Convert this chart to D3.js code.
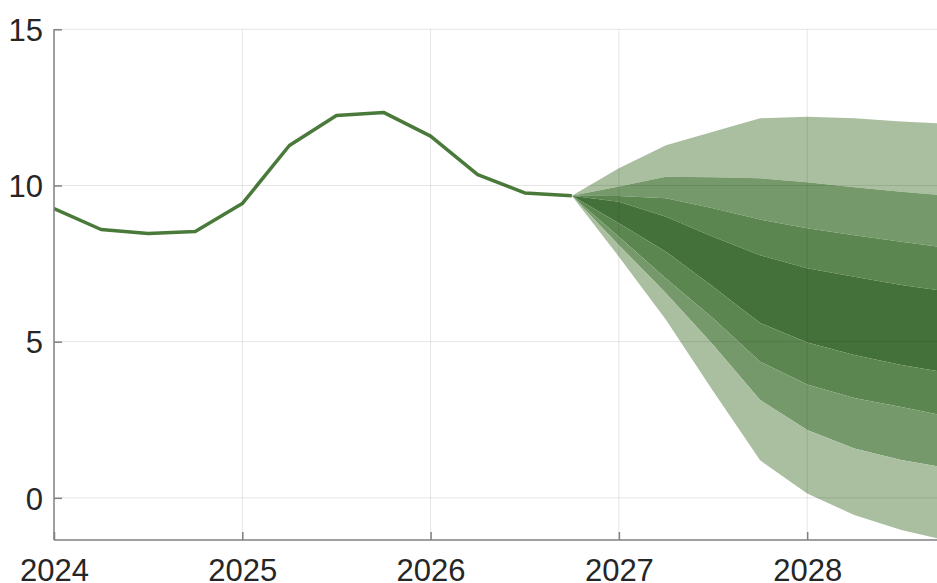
<!DOCTYPE html>
<html><head><meta charset="utf-8">
<script src="https://cdn.jsdelivr.net/npm/d3@7"></script>
<style>body{margin:0;background:#fff}svg{display:block}</style>
</head><body>
<svg id="c" width="937" height="583"></svg>
<script>
// History (quarterly, starting 2024 Q1)
const histDates = [2024, 2024.25, 2024.5, 2024.75, 2025, 2025.25, 2025.5, 2025.75, 2026, 2026.25, 2026.5, 2026.75];
const histValues = [9.26, 8.59, 8.46, 8.53, 9.42, 11.28, 12.24, 12.34, 11.58, 10.35, 9.76, 9.67];

// Fan chart (quarterly, from 2026 Q4)
const fanDates = [2026.75, 2027, 2027.25, 2027.5, 2027.75, 2028, 2028.25, 2028.5, 2028.75];
const upper1 = [9.67, 10.55, 11.29, 11.72, 12.15, 12.2, 12.15, 12.05, 11.97];
const upper2 = [9.67, 9.97, 10.28, 10.26, 10.23, 10.1, 9.94, 9.80, 9.67];
const upper3 = [9.67, 9.66, 9.59, 9.27, 8.91, 8.63, 8.41, 8.2, 8.0];
const upper4 = [9.67, 9.48, 9.0, 8.36, 7.77, 7.35, 7.08, 6.81, 6.6];
const lower4 = [9.67, 8.79, 7.88, 6.76, 5.6, 4.97, 4.57, 4.25, 4.0];
const lower3 = [9.67, 8.36, 7.02, 5.75, 4.36, 3.63, 3.2, 2.91, 2.6];
const lower2 = [9.67, 8.09, 6.55, 4.9, 3.13, 2.17, 1.58, 1.21, 0.95];
const lower1 = [9.67, 7.72, 5.7, 3.42, 1.2, 0.14, -0.55, -1.03, -1.38];

const xTicks = [2024, 2025, 2026, 2027, 2028];
const yTicks = [0, 5, 10, 15];

const svg = d3.select("#c");
const x = d3.scaleLinear().domain([2024, 2028.75]).range([54, 948.4]);
const y = d3.scaleLinear().domain([-1.35, 15]).range([540, 29.3]);

const bands = [
  {lo: upper2, hi: upper1, color: "#a9bf9f"},
  {lo: upper3, hi: upper2, color: "#76996b"},
  {lo: upper4, hi: upper3, color: "#5b8650"},
  {lo: lower4, hi: upper4, color: "#44713a"},
  {lo: lower3, hi: lower4, color: "#5b8650"},
  {lo: lower2, hi: lower3, color: "#76996b"},
  {lo: lower1, hi: lower2, color: "#a9bf9f"}
];

svg.append("defs").append("clipPath").attr("id", "clip")
  .append("rect").attr("x", 54).attr("y", 0).attr("width", 937 - 54).attr("height", 540);

const plot = svg.append("g").attr("clip-path", "url(#clip)");

bands.forEach(b => {
  const area = d3.area()
    .x((d, i) => x(fanDates[i]))
    .y0((d, i) => y(b.lo[i]))
    .y1((d, i) => y(b.hi[i]));
  plot.append("path").datum(fanDates).attr("d", area).attr("fill", b.color);
});

// grid on top (semi-transparent)
const grid = svg.append("g");
yTicks.forEach(t => {
  grid.append("line").attr("x1", 54).attr("x2", 937).attr("y1", y(t)).attr("y2", y(t))
    .attr("stroke", "rgba(0,0,0,0.1)").attr("stroke-width", 1);
});
xTicks.filter(t => t > 2024).forEach(t => {
  grid.append("line").attr("x1", x(t)).attr("x2", x(t)).attr("y1", y(15)).attr("y2", 540)
    .attr("stroke", "rgba(0,0,0,0.1)").attr("stroke-width", 1);
});

// history line
const line = d3.line().x((d, i) => x(histDates[i])).y(d => y(d));
plot.append("path").datum(histValues).attr("d", line)
  .attr("fill", "none").attr("stroke", "#4a7a3a").attr("stroke-width", 3.5)
  .attr("stroke-linejoin", "round");

// axes
const xAxis = d3.axisBottom(x).tickValues(xTicks).tickSize(-8).tickPadding(22).tickFormat(d3.format("d"));
const gx = svg.append("g").attr("transform", "translate(0,540)").call(xAxis);
const yAxis = d3.axisLeft(y).tickValues(yTicks).tickSize(-8).tickPadding(11);
const gy = svg.append("g").attr("transform", "translate(54,0)").call(yAxis);

[gx, gy].forEach(g => {
  g.select(".domain").attr("stroke", "#7f7f7f").attr("stroke-width", 1.5);
  g.selectAll(".tick line").attr("stroke", "#7f7f7f").attr("stroke-width", 1.5);
  g.selectAll(".tick text").attr("fill", "#262626")
    .style("font-family", "'Liberation Sans', Arial, sans-serif").style("font-size", "31px");
});
gx.select(".domain").attr("d", "M54,0H937");
gy.select(".domain").attr("d", "M0,540V29.3");
gx.selectAll(".tick text").attr("dy", "0.71em").attr("y", 19);
gy.selectAll(".tick text").attr("dy", "0.36em");
</script>
</body></html>
